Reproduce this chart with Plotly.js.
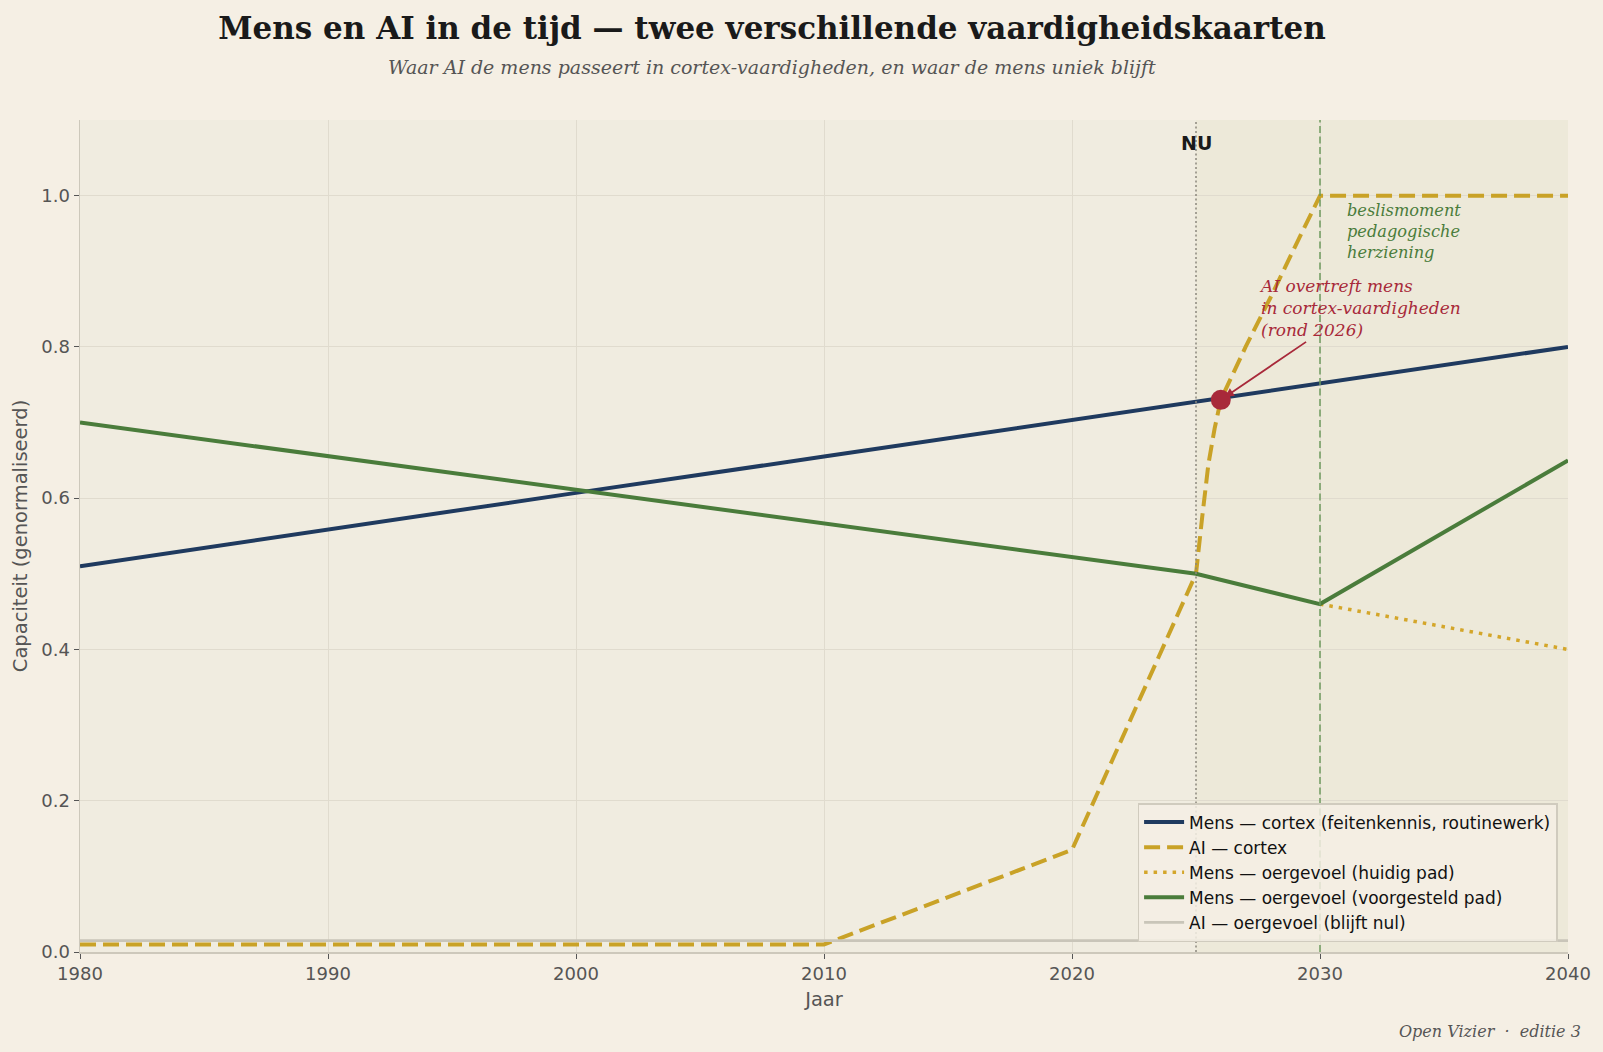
<!DOCTYPE html>
<html>
<head>
<meta charset="utf-8">
<script src="https://cdn.plot.ly/plotly-3.0.1.min.js"></script>
<style>
  html, body { margin: 0; padding: 0; background: #f5efe4; }
  #chart { width: 1603px; height: 1052px; }
</style>
</head>
<body>
<div id="chart"></div>
<script>
// ---- data ----
const yearsMensCortex = [1980, 1990, 2000, 2010, 2020, 2030, 2040];
const mensCortex      = [0.51, 0.559, 0.607, 0.655, 0.703, 0.752, 0.80];

const yearsAiCortex = [1980, 1990, 2000, 2010, 2020, 2025, 2025.25, 2025.5, 2025.75, 2026, 2027, 2028, 2029, 2030, 2035, 2040];
const aiCortex      = [0.01, 0.01, 0.01, 0.01, 0.135, 0.50, 0.575, 0.645, 0.692, 0.73, 0.80, 0.865, 0.933, 1.0, 1.0, 1.0];

const yearsHuidig = [2030, 2035, 2040];
const mensOergevoelHuidig = [0.46, 0.43, 0.40];

const yearsVoorgesteld = [1980, 2000, 2025, 2030, 2035, 2040];
const mensOergevoelVoorgesteld = [0.70, 0.611, 0.50, 0.46, 0.555, 0.65];

const yearsAiOergevoel = [1980, 2000, 2020, 2040];
const aiOergevoel = [0.015, 0.015, 0.015, 0.015];

const crossYear = [2026];
const crossValue = [0.73];

const nuYear = 2025;
const beslisYear = 2030;

const xTicks = [1980, 1990, 2000, 2010, 2020, 2030, 2040];
const yTicks = [0.0, 0.2, 0.4, 0.6, 0.8, 1.0];

// ---- styles ----
const C = {
  paper: '#f5efe4', plot: '#f0ece0', navy: '#1f3a5f', gold: '#c9a227', dot: '#d4a62a',
  green: '#4a7c3b', gray: '#c9c5b9', red: '#a8293a', text: '#555555', dark: '#1a1a1a'
};
const serif = 'DejaVu Serif, serif';
const sans = 'DejaVu Sans, sans-serif';

const traces = [
  { x: yearsMensCortex, y: mensCortex, mode: 'lines', name: 'Mens — cortex (feitenkennis, routinewerk)',
    line: { color: C.navy, width: 4 } },
  { x: yearsAiCortex, y: aiCortex, mode: 'lines', name: 'AI — cortex',
    line: { color: C.gold, width: 4, dash: '16px,7px' } },
  { x: yearsHuidig, y: mensOergevoelHuidig, mode: 'lines', name: 'Mens — oergevoel (huidig pad)',
    line: { color: C.dot, width: 3.5, dash: '3.5px,6px' } },
  { x: yearsVoorgesteld, y: mensOergevoelVoorgesteld, mode: 'lines', name: 'Mens — oergevoel (voorgesteld pad)',
    line: { color: C.green, width: 4 } },
  { x: yearsAiOergevoel, y: aiOergevoel, mode: 'lines', name: 'AI — oergevoel (blijft nul)',
    line: { color: C.gray, width: 2.8 } },
  { x: crossYear, y: crossValue, mode: 'markers', showlegend: false, hoverinfo: 'skip',
    marker: { color: C.red, size: 20 } }
];

const layout = {
  width: 1603, height: 1052,
  paper_bgcolor: C.paper, plot_bgcolor: C.plot,
  margin: { l: 80, r: 35, t: 120, b: 100 },
  font: { family: sans, color: C.text },
  title: {
    text: 'Mens en AI in de tijd — twee verschillende vaardigheidskaarten',
    font: { family: serif, size: 31, color: C.dark, weight: 'bold' },
    x: 772 / 1603, xref: 'container', xanchor: 'center',
    y: 1 - 28 / 1052, yref: 'container', yanchor: 'middle'
  },
  xaxis: {
    range: [1980, 2040], tickvals: xTicks, ticktext: xTicks.map(String),
    showgrid: true, gridcolor: '#e0dbce', gridwidth: 1,
    showline: true, linecolor: '#cdc8bb', linewidth: 1.5, mirror: false,
    ticks: 'outside', ticklen: 5, tickcolor: '#555', tickwidth: 1,
    tickfont: { family: sans, size: 18, color: C.text },
    zeroline: false,
    title: { text: 'Jaar', font: { family: sans, size: 19.5, color: C.text }, standoff: 9 },
    automargin: false
  },
  yaxis: {
    range: [0, 1.1], tickvals: yTicks, ticktext: yTicks.map(v => v.toFixed(1)),
    showgrid: true, gridcolor: '#e0dbce', gridwidth: 1,
    showline: true, linecolor: '#cdc8bb', linewidth: 1.5, mirror: false,
    ticks: 'outside', ticklen: 5, tickcolor: '#555', tickwidth: 1,
    tickfont: { family: sans, size: 18, color: C.text },
    zeroline: false,
    title: { text: 'Capaciteit (genormaliseerd)', font: { family: sans, size: 19.5, color: C.text }, standoff: 8 },
    automargin: false
  },
  legend: {
    x: 0.993, xanchor: 'right', y: 0.012, yanchor: 'bottom',
    bgcolor: 'rgba(245,239,228,0.85)', bordercolor: '#d0cbbe', borderwidth: 1.5,
    font: { family: sans, size: 17, color: '#111111' },
    tracegroupgap: 0, itemwidth: 40
  },
  shapes: [
    { type: 'rect', xref: 'x', yref: 'paper', x0: nuYear, x1: 2040, y0: 0, y1: 1,
      fillcolor: 'rgba(205,205,140,0.08)', line: { width: 0 }, layer: 'below' },
    { type: 'line', xref: 'x', yref: 'paper', x0: nuYear, x1: nuYear, y0: 0, y1: 1,
      line: { color: '#8a877c', width: 1.5, dash: '2px,2.5px' }, layer: 'above' },
    { type: 'line', xref: 'x', yref: 'paper', x0: beslisYear, x1: beslisYear, y0: 0, y1: 1,
      line: { color: '#6e9a5e', width: 1.5, dash: '7px,3.5px' }, layer: 'above' }
  ],
  annotations: [
    { text: 'Waar AI de mens passeert in cortex-vaardigheden, en waar de mens uniek blijft',
      xref: 'paper', yref: 'paper', x: (772 - 80) / 1488, y: (952 - 67) / 832,
      xanchor: 'center', yanchor: 'middle', showarrow: false,
      font: { family: serif, size: 19, color: C.text, style: 'italic' } },
    { text: 'NU', xref: 'x', yref: 'y', x: nuYear, y: 1.07, xanchor: 'center', yanchor: 'middle',
      showarrow: false, font: { family: sans, size: 19, color: C.dark, weight: 'bold' } },
    { text: 'beslismoment<br>pedagogische<br>herziening', xref: 'x', yref: 'y', x: 2031.0, y: 0.995,
      xanchor: 'left', yanchor: 'top', align: 'left', showarrow: false,
      font: { family: serif, size: 16.2, color: C.green, style: 'italic' } },
    { text: 'AI overtreft mens<br>in cortex-vaardigheden<br>(rond 2026)', xref: 'x', yref: 'y', x: 2027.45, y: 0.896,
      xanchor: 'left', yanchor: 'top', align: 'left', showarrow: false,
      font: { family: serif, size: 17, color: C.red, style: 'italic' } },
    { text: '', xref: 'x', yref: 'y', x: crossYear[0], y: crossValue[0],
      axref: 'x', ayref: 'y', ax: 2029.5, ay: 0.808, showarrow: true,
      arrowcolor: C.red, arrowwidth: 1.8, arrowhead: 2, arrowsize: 1, standoff: 5 },
    { text: 'Open Vizier  ·  editie 3', xref: 'paper', yref: 'paper', x: (1583 - 80) / 1488, y: (952 - 1031) / 832,
      xanchor: 'right', yanchor: 'middle', showarrow: false,
      font: { family: serif, size: 16, color: C.text, style: 'italic' } }
  ]
};

Plotly.newPlot('chart', traces, layout, { displayModeBar: false, staticPlot: true });
</script>
</body>
</html>
